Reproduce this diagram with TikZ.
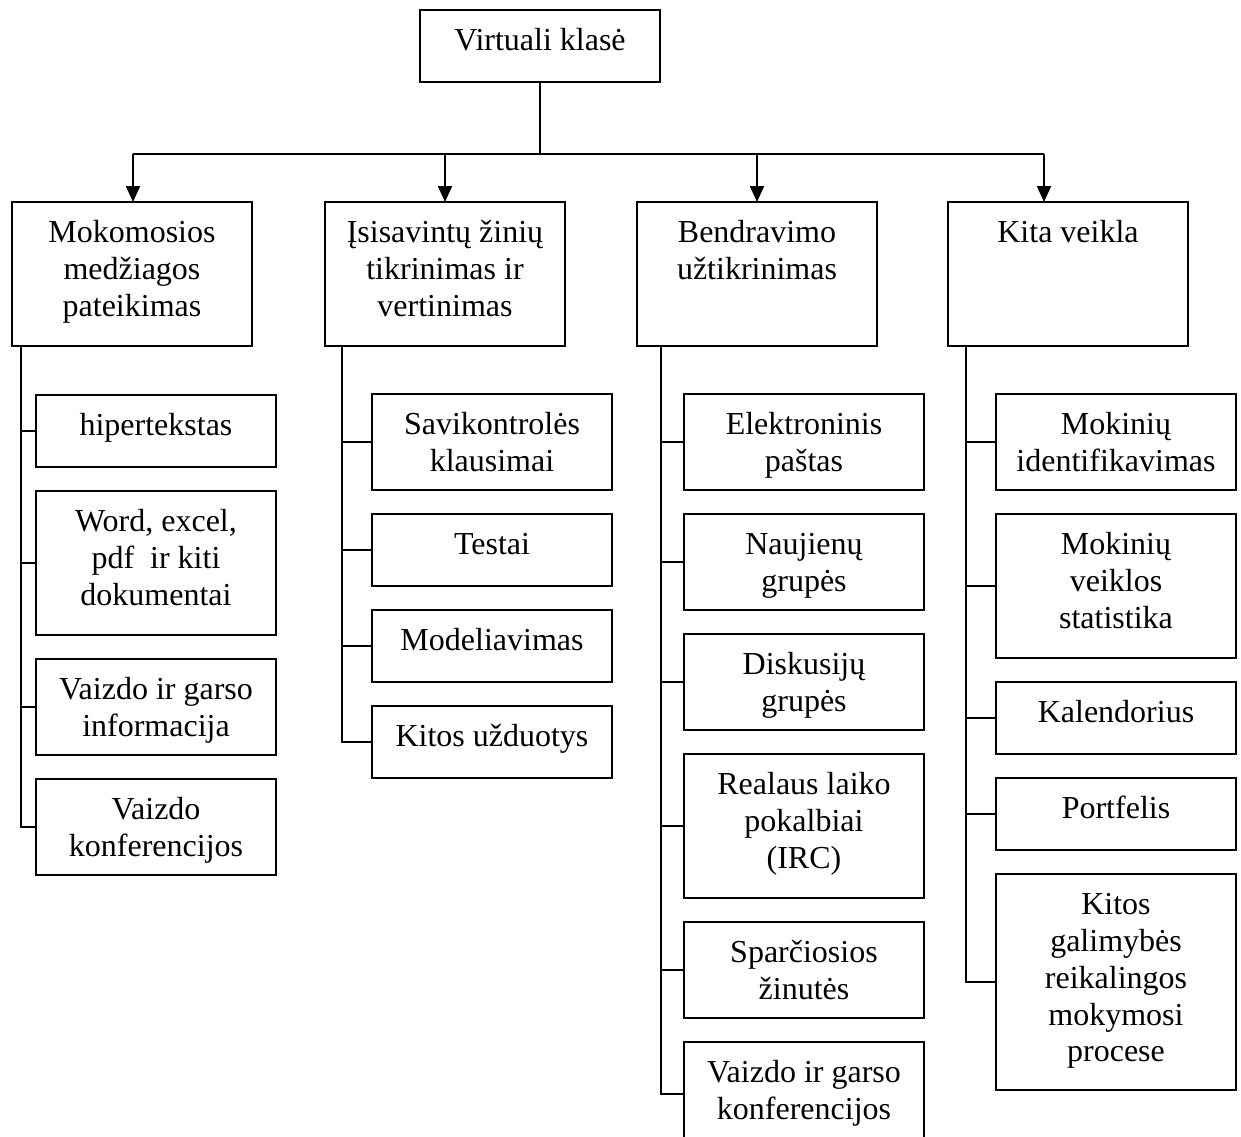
\documentclass[tikz,border=0pt]{standalone}
\usepackage{fontspec}
\setmainfont{Liberation Serif}
\usetikzlibrary{arrows.meta}
\newcommand{\bt}[2]{\parbox[c][#1][t]{240pt}{\centering\vspace*{15pt}\strut #2\par}}
\tikzset{
  box/.style={draw=black, line width=1.8pt, inner sep=0pt, outer sep=0pt, anchor=north west,
    font=\fontsize{32pt}{36.8pt}\selectfont},
  conn/.style={line width=1.8pt},
  arr/.style={line width=1.8pt, -{Triangle[width=14pt,length=16pt]}}
}
\begin{document}
\begin{tikzpicture}[x=1pt,y=-1pt]
\useasboundingbox (0,0) rectangle (1241,1136);
\begin{scope}
\clip (0,0) rectangle (1241,1136);
% top
\node[box] (top) at (420,10) {\bt{72pt}{Virtuali klasė}};
% categories
\node[box] (c1) at (12,202) {\bt{144pt}{Mokomosios\\medžiagos\\pateikimas}};
\node[box] (c2) at (325,202) {\bt{144pt}{Įsisavintų žinių\\tikrinimas ir\\vertinimas}};
\node[box] (c3) at (637,202) {\bt{144pt}{Bendravimo\\užtikrinimas}};
\node[box] (c4) at (948,202) {\bt{144pt}{Kita veikla}};
% bus
\coordinate (bus) at (540,154);
\coordinate (a1) at (133,154);
\coordinate (a2) at (445,154);
\coordinate (a3) at (757,154);
\coordinate (a4) at (1044,154);
\draw[conn] (bus |- top.south) -- (bus);
\draw[conn] (a1) -- (a4);
\draw[arr] (a1) -- (a1 |- c1.north);
\draw[arr] (a2) -- (a2 |- c2.north);
\draw[arr] (a3) -- (a3 |- c3.north);
\draw[arr] (a4) -- (a4 |- c4.north);
% column 1
\node[box] (k11) at (36,395) {\bt{72pt}{hipertekstas}};
\node[box] (k12) at (36,491) {\bt{144pt}{Word, excel,\\pdf~ ir kiti\\dokumentai}};
\node[box] (k13) at (36,659) {\bt{96pt}{Vaizdo ir garso\\informacija}};
\node[box] (k14) at (36,779) {\bt{96pt}{Vaizdo\\konferencijos}};
\coordinate (t1) at (21,346);
\foreach \k in {k11,k12,k13,k14} \draw[conn] (t1) |- (\k.west);
% column 2
\node[box] (k21) at (372,394) {\bt{96pt}{Savikontrolės\\klausimai}};
\node[box] (k22) at (372,514) {\bt{72pt}{Testai}};
\node[box] (k23) at (372,610) {\bt{72pt}{Modeliavimas}};
\node[box] (k24) at (372,706) {\bt{72pt}{Kitos užduotys}};
\coordinate (t2) at (342,346);
\foreach \k in {k21,k22,k23,k24} \draw[conn] (t2) |- (\k.west);
% column 3
\node[box] (k31) at (684,394) {\bt{96pt}{Elektroninis\\paštas}};
\node[box] (k32) at (684,514) {\bt{96pt}{Naujienų\\grupės}};
\node[box] (k33) at (684,634) {\bt{96pt}{Diskusijų\\grupės}};
\node[box] (k34) at (684,754) {\bt{144pt}{Realaus laiko\\pokalbiai\\(IRC)}};
\node[box] (k35) at (684,922) {\bt{96pt}{Sparčiosios\\žinutės}};
\node[box] (k36) at (684,1042) {\bt{100pt}{Vaizdo ir garso\\konferencijos}};
\coordinate (t3) at (661,346);
\draw[conn] (t3) |- (k31.west);
\draw[conn] (t3) |- (k32.west);
\draw[conn] (t3) |- (k33.west);
\draw[conn] (t3) |- (k34.west);
\draw[conn] (t3) |- (k35.west);
\draw[conn] (t3) |- ([yshift=-2pt]k36.west);
% column 4
\node[box] (k41) at (996,394) {\bt{96pt}{Mokinių\\identifikavimas}};
\node[box] (k42) at (996,514) {\bt{144pt}{Mokinių\\veiklos\\statistika}};
\node[box] (k43) at (996,682) {\bt{72pt}{Kalendorius}};
\node[box] (k44) at (996,778) {\bt{72pt}{Portfelis}};
\node[box] (k45) at (996,874) {\bt{216pt}{Kitos\\galimybės\\reikalingos\\mokymosi\\procese}};
\coordinate (t4) at (966,346);
\foreach \k in {k41,k42,k43,k44,k45} \draw[conn] (t4) |- (\k.west);
\end{scope}
\end{tikzpicture}
\end{document}
